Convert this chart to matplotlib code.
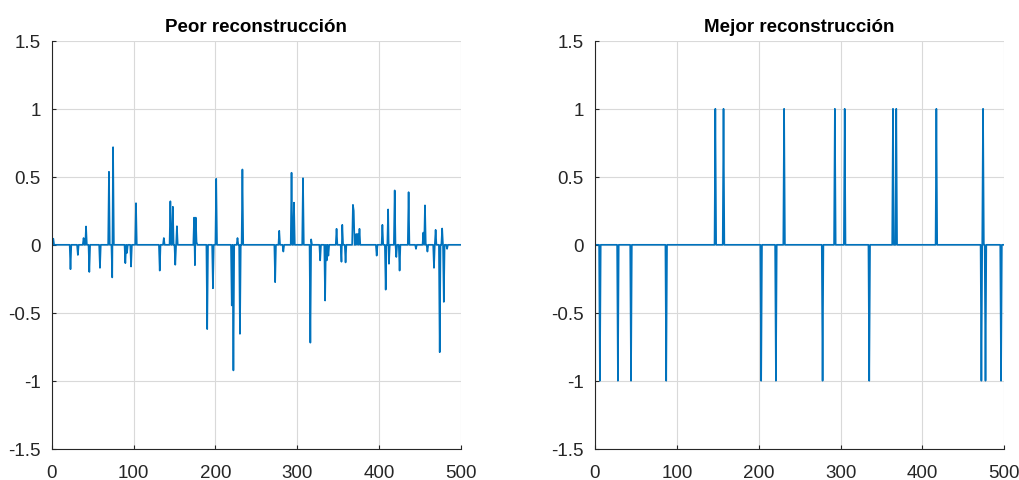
import numpy as np
import matplotlib
matplotlib.use("Agg")
import matplotlib.pyplot as plt
from matplotlib.ticker import FuncFormatter

plt.rcParams['font.family'] = ['Liberation Sans', 'DejaVu Sans']
plt.rcParams['axes.unicode_minus'] = False

n = 500

# peor reconstruccion: indices (1..500) and values of the non-zero entries
peor_idx = [2, 23, 32, 39, 42, 46, 59, 70, 74, 75, 90, 92, 97, 103,
            132, 137, 145, 148, 151, 153, 174, 175, 176, 177, 190, 197, 201,
            220, 222, 227, 230, 233, 273, 278, 283, 293, 296, 307, 316, 317,
            328, 334, 336, 338, 348, 354, 355, 359, 368, 369, 372, 374, 376,
            397, 404, 408, 411, 412, 419, 421, 425, 436, 445, 454, 456, 459,
            467, 469, 474, 477, 479, 483]
peor_val = [0.045, -0.18, -0.075, 0.05, 0.135, -0.2, -0.17, 0.537, -0.24, 0.718,
            -0.135, -0.06, -0.16, 0.306,
            -0.19, 0.05, 0.32, 0.28, -0.147, 0.137, 0.2, -0.15, 0.2, 0.02,
            -0.62, -0.32, 0.485,
            -0.446, -0.924, 0.05, -0.655, 0.554, -0.275, 0.103, -0.05, 0.53,
            0.31, 0.49, -0.72, 0.04,
            -0.115, -0.41, -0.115, -0.08, 0.118, -0.125, 0.147, -0.13, 0.294,
            0.25, 0.08, 0.08, 0.118,
            -0.08, 0.147, -0.33, 0.26, -0.14, 0.4, -0.09, -0.19, 0.387, -0.03,
            0.09, 0.29, -0.05,
            -0.17, 0.11, -0.79, 0.12, -0.42, -0.03]

# mejor reconstruccion: +1 / -1 spikes
mejor_pos = [147, 157, 231, 293, 305, 364, 368, 417, 474]
mejor_neg = [6, 28, 44, 87, 203, 221, 278, 335, 472, 477, 496]

t = np.arange(1, n + 1)
peor = np.zeros(n)
peor[np.array(peor_idx) - 1] = peor_val
mejor = np.zeros(n)
mejor[np.array(mejor_pos) - 1] = 1
mejor[np.array(mejor_neg) - 1] = -1

fig = plt.figure(figsize=(10.19, 4.81), dpi=100)
ax1 = fig.add_axes([0.0507, 0.065, 0.4017, 0.848])
ax2 = fig.add_axes([0.5839, 0.065, 0.4017, 0.848])

color = '#0072BD'
dark = '#262626'
for ax, y, title in [(ax1, peor, 'Peor reconstrucción'), (ax2, mejor, 'Mejor reconstrucción')]:
    ax.plot(t, y, color=color, linewidth=1.2)
    ax.set_xlim(0, 500)
    ax.set_ylim(-1.5, 1.5)
    ax.set_xticks(np.arange(0, 501, 100))
    ax.set_yticks(np.arange(-1.5, 1.51, 0.5))
    ax.yaxis.set_major_formatter(FuncFormatter(lambda v, p: '%g' % v))
    ax.grid(True, color='#d9d9d9', linewidth=0.8)
    ax.set_axisbelow(True)
    for s in ['top', 'right']:
        ax.spines[s].set_visible(False)
    for s in ['left', 'bottom']:
        ax.spines[s].set_color(dark)
        ax.spines[s].set_linewidth(0.8)
    ax.tick_params(direction='in', length=3, width=0.8, colors=dark, labelsize=13.5)
    ax.tick_params(axis='y', pad=8)
    ax.tick_params(axis='x', pad=11)
    ax.set_title(title, fontsize=13.5, fontweight='bold', pad=7, color='black')

fig.savefig('out.png', dpi=100)
